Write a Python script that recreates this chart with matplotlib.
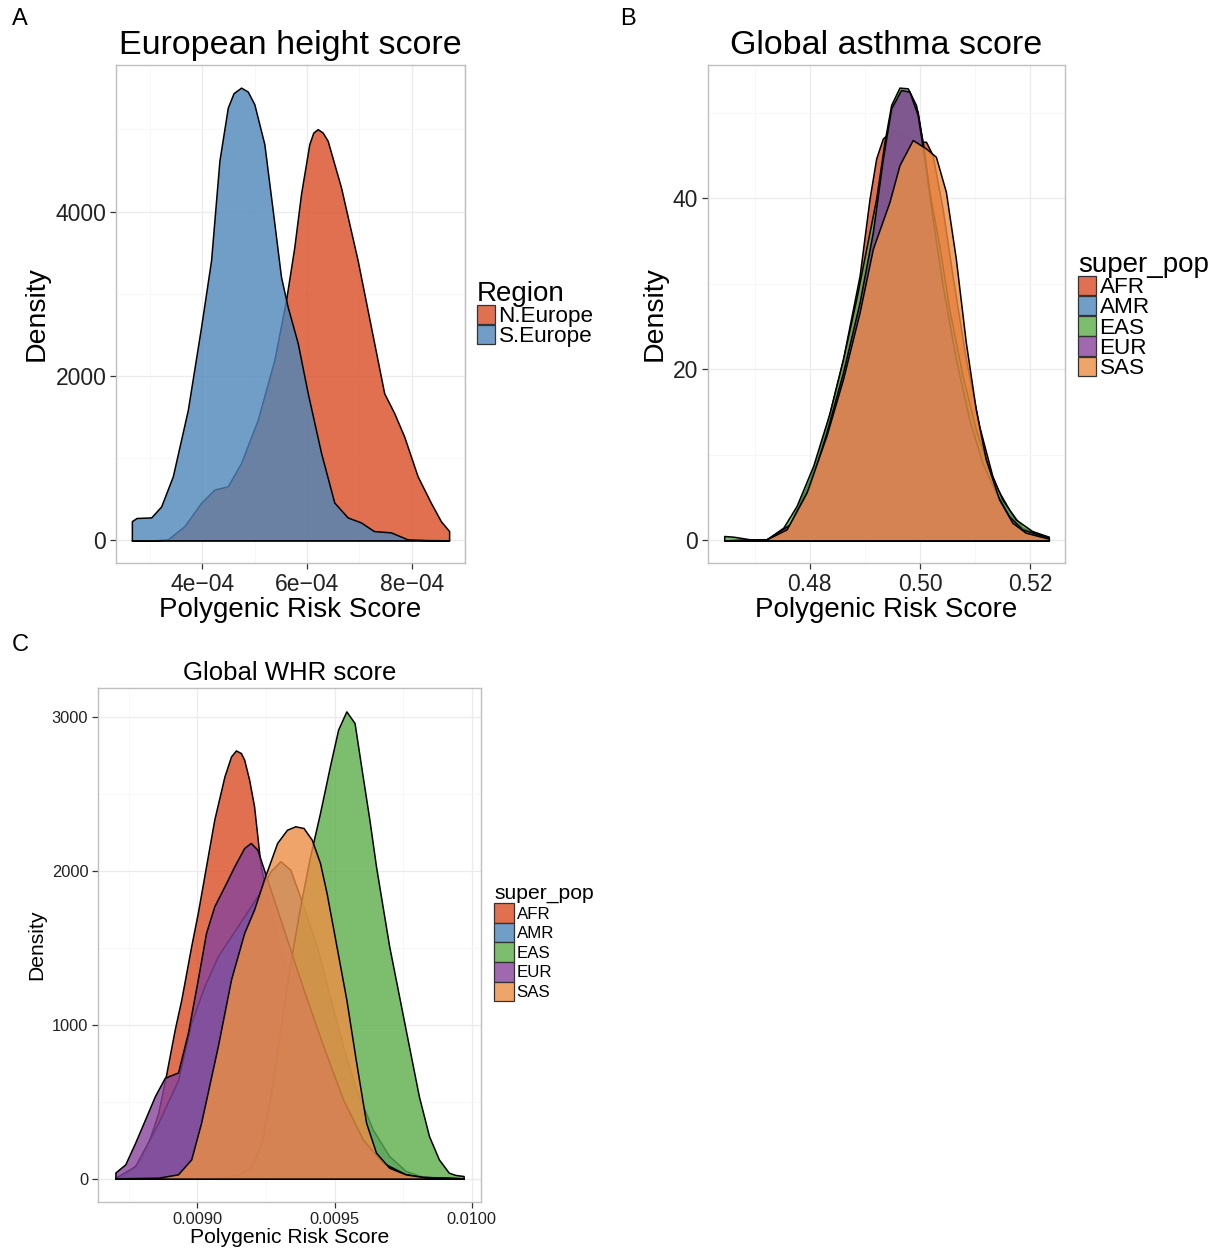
import numpy as np
import matplotlib
matplotlib.use("Agg")
from matplotlib import pyplot as plt
from matplotlib.patches import Patch
from matplotlib.ticker import MultipleLocator, FixedLocator

plt.rcParams["font.family"] = ["Liberation Sans", "DejaVu Sans"]

# ---- Panel A: European height score (x in 1e-4 units) ----
a_north_x = [2.661, 3.10, 3.347, 3.663, 3.981, 4.234, 4.490, 4.743, 5.061, 5.377, 5.600, 5.758, 5.886,
             6.044, 6.12, 6.204, 6.30, 6.394, 6.648, 6.966, 7.219, 7.472, 7.663, 7.853, 8.109, 8.362, 8.552, 8.710]
a_north_y = [0, 0, 12, 173, 457, 618, 658, 942, 1467, 2194, 2921, 3567, 4214,
             4820, 4960, 5002, 4960, 4861, 4295, 3406, 2598, 1790, 1548, 1264, 780, 457, 234, 113]
a_south_x = [2.661, 2.75, 3.029, 3.219, 3.442, 3.728, 3.981, 4.171, 4.330, 4.490, 4.60, 4.743, 4.87, 4.996, 5.187,
             5.347, 5.505, 5.632, 5.823, 6.013, 6.267, 6.520, 6.775, 7.029, 7.276, 7.600, 7.918, 8.30, 8.71]
a_south_y = [234, 272, 279, 412, 780, 1588, 2598, 3406, 4618, 5264, 5440, 5507, 5460, 5305, 4820,
             4012, 3204, 2840, 2400, 1794, 1067, 460, 279, 218, 113, 97, 12, 3, 1]
regions = ["N.Europe", "S.Europe"]

# ---- Panel B: Global asthma score ----
b_afr_x = [0.46448, 0.47218, 0.47639, 0.48000, 0.48301, 0.48602, 0.48903, 0.49083, 0.49203, 0.49324, 0.49504, 0.49745,
           0.49925, 0.50106, 0.50226, 0.50407, 0.50587, 0.50828, 0.51069, 0.51309, 0.51550, 0.51791, 0.52031, 0.52332]
b_afr_y = [0, 0.12, 1.88, 7.15, 13.40, 21.22, 30.99, 39.98, 44.67, 47.01, 47.99, 47.40,
           46.62, 46.62, 45.06, 38.80, 30.99, 21.22, 13.40, 7.54, 3.63, 1.68, 0.70, 0.2]
b_amr_x = [0.46448, 0.47218, 0.47639, 0.48000, 0.48301, 0.48602, 0.48903, 0.49143, 0.49324, 0.49474, 0.49625, 0.49805,
           0.49955, 0.50076, 0.50226, 0.50407, 0.50647, 0.50888, 0.51129, 0.51369, 0.51610, 0.51851, 0.52332]
b_amr_y = [0, 0.12, 1.68, 5.98, 12.23, 19.27, 27.47, 35.68, 43.88, 49.75, 52.48, 52.48,
           50.14, 45.06, 38.02, 30.60, 22.00, 14.97, 9.89, 6.37, 3.63, 1.49, 0.31]
b_eas_x = [0.46448, 0.46616, 0.46917, 0.47218, 0.47519, 0.47759, 0.48060, 0.48361, 0.48602, 0.48842, 0.49023, 0.49203,
           0.49354, 0.49474, 0.49625, 0.49775, 0.49925, 0.50046, 0.50166, 0.50347, 0.50527, 0.50768, 0.51008, 0.51249,
           0.51490, 0.51731, 0.52031, 0.52332]
b_eas_y = [0.51, 0.43, 0.12, 0.12, 1.49, 4.02, 8.71, 14.97, 21.22, 28.25, 34.11, 39.98,
           46.62, 50.92, 52.95, 52.87, 50.92, 46.62, 40.76, 34.51, 27.08, 19.27, 13.01, 8.32,
           4.81, 2.46, 1.09, 0.43]
b_eur_x = [0.46448, 0.47218, 0.47639, 0.48000, 0.48301, 0.48602, 0.48903, 0.49143, 0.49324, 0.49474, 0.49655, 0.49805,
           0.49955, 0.50076, 0.50226, 0.50407, 0.50647, 0.50888, 0.51129, 0.51369, 0.51610, 0.51851, 0.52332]
b_eur_y = [0, 0.12, 1.88, 6.37, 12.62, 19.66, 27.86, 36.07, 44.67, 50.53, 52.68, 52.48,
           49.75, 44.67, 37.63, 29.82, 21.22, 14.19, 9.11, 5.59, 2.85, 1.29, 0.31]
b_sas_x = [0.46448, 0.47218, 0.47579, 0.47940, 0.48301, 0.48602, 0.48903, 0.49143, 0.49294, 0.49444, 0.49625, 0.49865,
           0.50106, 0.50286, 0.50467, 0.50647, 0.50828, 0.51008, 0.51189, 0.51430, 0.51670, 0.51911, 0.52332]
b_sas_y = [0, 0.12, 1.29, 5.59, 12.23, 18.87, 26.69, 34.11, 36.85, 39.59, 43.88, 46.82,
           45.84, 44.86, 40.76, 32.94, 23.17, 15.36, 9.50, 4.81, 2.07, 0.90, 0.2]

# ---- Panel C: Global WHR score ----
c_afr_x = [0.008702, 0.008738, 0.008786, 0.008822, 0.008858, 0.008888, 0.008918, 0.008942, 0.008978, 0.009002,
           0.009032, 0.009062, 0.009099, 0.009123, 0.009141, 0.009159, 0.009171, 0.009189, 0.009207, 0.009219,
           0.009231, 0.009255, 0.009291, 0.009339, 0.009399, 0.009459, 0.009531, 0.009603, 0.009699, 0.009820, 0.009970]
c_afr_y = [6, 28, 104, 234, 428, 688, 969, 1164, 1511, 1727,
           2030, 2333, 2614, 2744, 2783, 2766, 2723, 2593, 2420, 2225,
           2030, 1835, 1554, 1294, 969, 645, 363, 169, 39, 6, 2]
c_amr_x = [0.008702, 0.008774, 0.008858, 0.008930, 0.008978, 0.009026, 0.009075,
           0.009123, 0.009171, 0.009219, 0.009267, 0.009303, 0.009339, 0.009387, 0.009435, 0.009483, 0.009531,
           0.009579, 0.009639, 0.009699, 0.009759, 0.009820, 0.009970]
c_amr_y = [6, 82, 363, 640, 1013, 1251, 1446,
           1576, 1705, 1835, 1998, 2063, 2008, 1770, 1511, 1186, 861,
           580, 320, 147, 50, 13, 2]
c_eas_x = [0.008702, 0.008978, 0.009099, 0.009147, 0.009195, 0.009231, 0.009267, 0.009303, 0.009339, 0.009375,
           0.009411, 0.009447, 0.009483, 0.009513, 0.009543, 0.009573, 0.009597, 0.009627, 0.009651, 0.009675,
           0.009699, 0.009735, 0.009771, 0.009807, 0.009844, 0.009880, 0.009916, 0.009940, 0.009970]
c_eas_y = [2, 2, 6, 28, 71, 212, 537, 969, 1402, 1770,
           2095, 2376, 2679, 2918, 3037, 2961, 2679, 2333, 2030, 1770,
           1511, 1186, 861, 537, 277, 125, 39, 24, 17]
c_eur_x = [0.008702, 0.008738, 0.008774, 0.008810, 0.008846, 0.008882, 0.008930, 0.008966, 0.009002, 0.009032,
           0.009062, 0.009099, 0.009135, 0.009171, 0.009195, 0.009219, 0.009243, 0.009279, 0.009327, 0.009387,
           0.009459, 0.009531, 0.009603, 0.009675, 0.009759, 0.009820, 0.009970]
c_eur_y = [40, 93, 234, 385, 537, 656, 690, 948, 1294, 1597,
           1770, 1900, 2030, 2149, 2182, 2138, 2008, 1814, 1554, 1229,
           861, 515, 255, 104, 28, 11, 2]
c_sas_x = [0.008702, 0.008858, 0.008930, 0.008978, 0.009014, 0.009075, 0.009123, 0.009171, 0.009207, 0.009243,
           0.009291, 0.009327, 0.009357, 0.009387, 0.009417, 0.009447, 0.009471, 0.009507, 0.009543, 0.009579,
           0.009615, 0.009651, 0.009699, 0.009759, 0.009820, 0.009970]
c_sas_y = [2, 6, 28, 125, 363, 861, 1294, 1597, 1749, 1944,
           2182, 2268, 2290, 2279, 2203, 2052, 1857, 1511, 1164, 753,
           363, 169, 71, 28, 11, 2]
pops = ["AFR", "AMR", "EAS", "EUR", "SAS"]

pop_colors = ["#D94C24", "#4E86BA", "#5CAE4A", "#88449B", "#EC8F44"]
ALPHA = 0.8
GRID_MAJ = "#EBEBEB"
GRID_MIN = "#F6F6F6"


def style_axes(ax, tick_size):
    ax.set_facecolor("white")
    for s in ax.spines.values():
        s.set_color("#BFBFBF")
        s.set_linewidth(1.0)
    ax.grid(True, which="major", color=GRID_MAJ, lw=0.9)
    ax.grid(True, which="minor", color=GRID_MIN, lw=0.6)
    ax.set_axisbelow(True)
    ax.tick_params(which="major", length=4, width=0.9, color="#333333",
                   labelsize=tick_size, labelcolor="#222222", pad=3)
    ax.tick_params(which="minor", length=0)


def density(ax, x, y, color):
    return ax.fill_between(x, y, 0, facecolor=matplotlib.colors.to_rgba(color, ALPHA),
                           edgecolor="black", linewidth=1.1)


def add_legend(fig, title, labels, colors, anchor, title_size, label_size, key_h, spacing):
    handles = [Patch(facecolor=matplotlib.colors.to_rgba(c, ALPHA), edgecolor="#333333", linewidth=0.9)
               for c in colors]
    leg = fig.legend(handles, labels, title=title, loc="upper left", bbox_to_anchor=anchor,
                     bbox_transform=fig.transFigure, frameon=False, fontsize=label_size,
                     title_fontsize=title_size, handlelength=0.85 * key_h, handleheight=key_h,
                     labelspacing=spacing, handletextpad=0.15, borderpad=0, borderaxespad=0)
    leg._legend_box.align = "left"
    return leg


W, H = 1224, 1249
fig = plt.figure(figsize=(W / 100, H / 100), dpi=100)


def fig_rect(x0, y0, x1, y1):
    return [x0 / W, 1 - y1 / H, (x1 - x0) / W, (y1 - y0) / H]


# Panel A
axA = fig.add_axes(fig_rect(116, 65, 465, 563))
colsA = [pop_colors[0], pop_colors[1]]
density(axA, np.array(a_north_x) * 1e-4, a_north_y, colsA[0])
density(axA, np.array(a_south_x) * 1e-4, a_south_y, colsA[1])
axA.xaxis.set_major_locator(FixedLocator([4e-4, 6e-4, 8e-4]))
axA.xaxis.set_minor_locator(FixedLocator([3e-4, 5e-4, 7e-4, 9e-4]))
axA.set_xticklabels(["4e\u221204", "6e\u221204", "8e\u221204"])
axA.yaxis.set_major_locator(MultipleLocator(2000))
axA.yaxis.set_minor_locator(MultipleLocator(1000))
style_axes(axA, 16.5)
axA.set_title("European height score", fontsize=24.5, pad=8)
axA.set_xlabel("Polygenic Risk Score", fontsize=20, labelpad=1)
axA.set_ylabel("Density", fontsize=20.5, labelpad=4)
add_legend(fig, "Region", regions, colsA, (477 / W, 1 - 281 / H), 20, 16.2, 0.95, -0.1)

# Panel B
axB = fig.add_axes(fig_rect(708, 65, 1065, 563))
for xs, ys, c in zip([b_afr_x, b_amr_x, b_eas_x, b_eur_x, b_sas_x],
                     [b_afr_y, b_amr_y, b_eas_y, b_eur_y, b_sas_y], pop_colors):
    density(axB, xs, ys, c)
axB.xaxis.set_major_locator(FixedLocator([0.48, 0.50, 0.52]))
axB.xaxis.set_minor_locator(FixedLocator([0.47, 0.49, 0.51]))
axB.set_xticklabels(["0.48", "0.50", "0.52"])
axB.yaxis.set_major_locator(MultipleLocator(20))
axB.yaxis.set_minor_locator(MultipleLocator(10))
style_axes(axB, 16.5)
axB.set_title("Global asthma score", fontsize=24.5, pad=8)
axB.set_xlabel("Polygenic Risk Score", fontsize=20, labelpad=1)
axB.set_ylabel("Density", fontsize=20.5, labelpad=4)
add_legend(fig, "super_pop", pops, pop_colors, (1078 / W, 1 - 252 / H), 20, 16.2, 0.95, -0.1)

# Panel C
axC = fig.add_axes(fig_rect(98, 688, 481, 1202))
for xs, ys, c in zip([c_afr_x, c_amr_x, c_eas_x, c_eur_x, c_sas_x],
                     [c_afr_y, c_amr_y, c_eas_y, c_eur_y, c_sas_y], pop_colors):
    density(axC, xs, ys, c)
axC.xaxis.set_major_locator(FixedLocator([0.0090, 0.0095, 0.0100]))
axC.xaxis.set_minor_locator(FixedLocator([0.00875, 0.00925, 0.00975]))
axC.set_xticklabels(["0.0090", "0.0095", "0.0100"])
axC.yaxis.set_major_locator(MultipleLocator(1000))
axC.yaxis.set_minor_locator(MultipleLocator(500))
style_axes(axC, 11.8)
axC.set_title("Global WHR score", fontsize=18.5, pad=6)
axC.set_xlabel("Polygenic Risk Score", fontsize=15.2, labelpad=1)
axC.set_ylabel("Density", fontsize=15.2, labelpad=4)
add_legend(fig, "super_pop", pops, pop_colors, (494 / W, 1 - 884 / H), 15.2, 12.2, 1.4, 0.0)

# panel letters
for letter, (px, py) in zip("ABC", [(12, 8), (620, 8), (12, 634)]):
    fig.text(px / W, 1 - py / H, letter, fontsize=17, va="top", ha="left")

fig.savefig("out.png", dpi=100, facecolor="white")
